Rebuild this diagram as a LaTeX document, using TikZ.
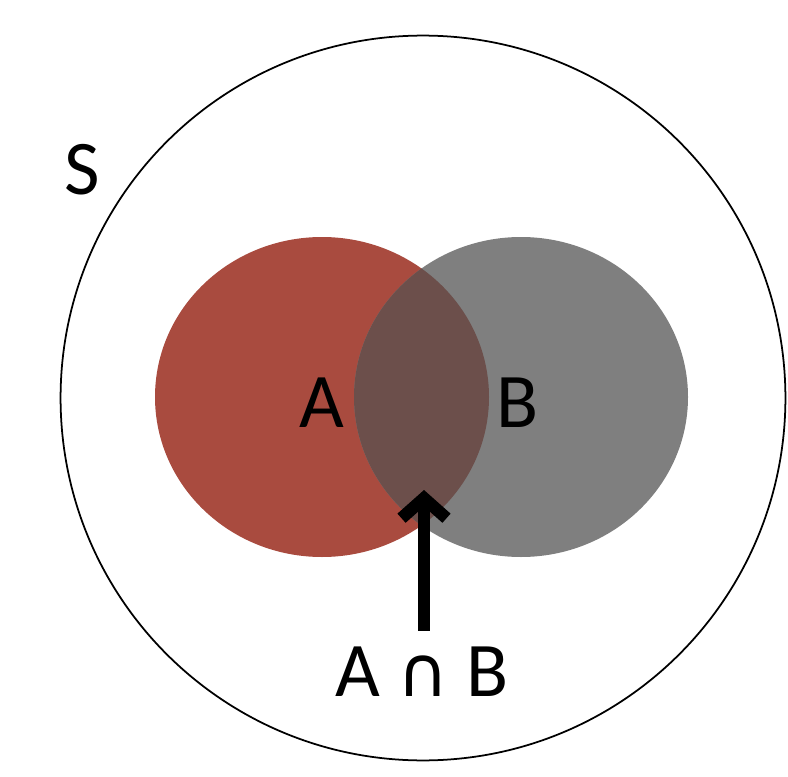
\documentclass[tikz,border=0pt]{standalone}
\usepackage{fontspec}
\setmainfont{Carlito}
\newfontfamily\symfont{DejaVu Sans}
\usetikzlibrary{arrows.meta}
\definecolor{setred}{HTML}{A94B3F}
\definecolor{setgray}{HTML}{7F7F7F}
\definecolor{setboth}{HTML}{6C4F4B}
\begin{document}
\begin{tikzpicture}[x=0.02cm,y=-0.02cm]
  \tikzset{lbl/.style={font=\fontsize{44}{48}\selectfont}}
  \useasboundingbox (0,0) rectangle (788,777);
  % Sets
  \node[circle, draw, line width=1pt, minimum size=14.5cm] (S) at (423,398) {};
  \fill[setred] (322,397) ellipse [x radius=167, y radius=160];
  \fill[setgray] (521,397) ellipse [x radius=167, y radius=160];
  \begin{scope}
    \clip (322,397) ellipse [x radius=167, y radius=160];
    \fill[setboth] (521,397) ellipse [x radius=167, y radius=160];
  \end{scope}
  % Labels
  \node[lbl] (sl) at (82,170) {S};
  \node[lbl] (al) at (322,403) {A};
  \node[lbl] (bl) at (518,403) {B};
  \node[lbl] (ab) at (422,672) {A {\symfont\fontsize{40}{44}\selectfont∩} B};
  \coordinate (tip) at (424,490);
  % Arrow
  \draw[line width=7pt, -{Straight Barb[length=4mm,width=9mm]}] (ab.north -| tip) ++(0,-10) -- (tip);
\end{tikzpicture}
\end{document}
